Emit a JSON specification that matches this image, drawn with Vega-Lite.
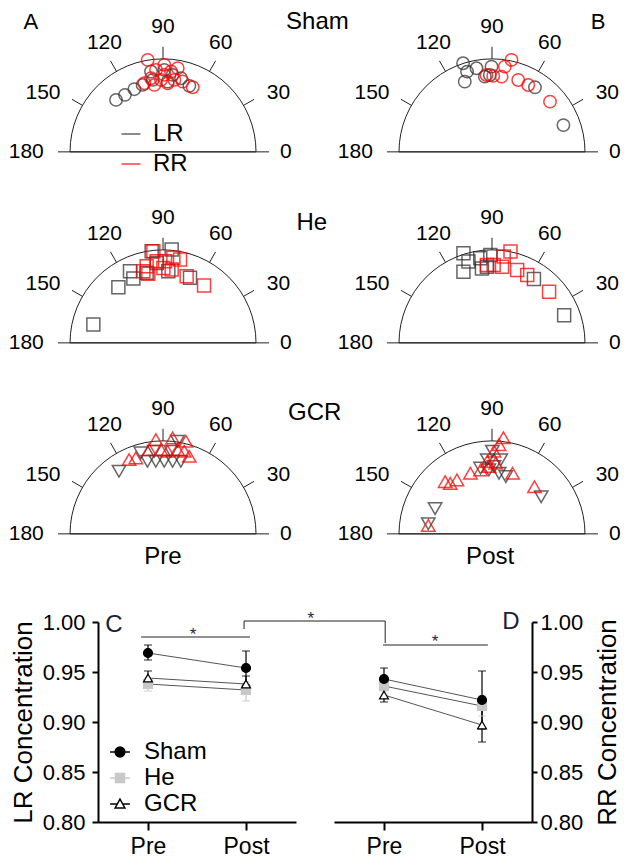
{
"$schema":"https://vega.github.io/schema/vega-lite/v6.json",
"padding":{"left":8,"top":0,"right":0,"bottom":0},
"spacing":38,
"resolve":{"scale":{"color":"independent","shape":"independent","fill":"independent","stroke":"independent"}},
"config":{"view":{"stroke":null},"font":"Liberation Sans",
 "text":{"font":"Liberation Sans"},
 "axis":{"domainColor":"#000","tickColor":"#000","labelColor":"#000","titleColor":"#000","domainWidth":2,"tickWidth":2,"grid":false,"labelFont":"Liberation Sans","titleFont":"Liberation Sans","labelFontSize":22,"titleFontSize":26,"titleFontWeight":"normal"},
 "legend":{"labelFont":"Liberation Sans","labelColor":"#000"}},
"datasets":{
 "ticks":[{"x":-1.13,"y":0,"x2":1.14,"y2":0},{"x":0.866,"y":0.5,"x2":0.979,"y2":0.565},{"x":0.5,"y":0.866,"x2":0.565,"y2":0.979},{"x":0,"y":1,"x2":0,"y2":1.13},{"x":-0.5,"y":0.866,"x2":-0.565,"y2":0.979},{"x":-0.866,"y":0.5,"x2":-0.979,"y2":0.565}],
 "angleLabels":[{"t":"0","x":1.32,"y":0},{"t":"30","x":1.24,"y":0.63},{"t":"60","x":0.62,"y":1.17},{"t":"90","x":0,"y":1.34},{"t":"120","x":-0.63,"y":1.17},{"t":"150","x":-1.29,"y":0.63},{"t":"180","x":-1.47,"y":0}],
 "shamPre":[{"side":"LR","x":-0.505,"y":0.559},{"side":"LR","x":-0.409,"y":0.613},{"side":"LR","x":-0.308,"y":0.674},{"side":"LR","x":-0.219,"y":0.72},{"side":"LR","x":-0.111,"y":0.774},{"side":"LR","x":-0.129,"y":0.864},{"side":"LR","x":0.014,"y":0.882},{"side":"LR","x":0.104,"y":0.828},{"side":"LR","x":0.05,"y":0.756},{"side":"LR","x":0.283,"y":0.71},{"side":"LR","x":0.194,"y":0.792},
  {"side":"RR","x":-0.165,"y":0.989},{"side":"RR","x":0.014,"y":0.935},{"side":"RR","x":0.158,"y":0.9},{"side":"RR","x":-0.075,"y":0.882},{"side":"RR","x":0.086,"y":0.864},{"side":"RR","x":-0.129,"y":0.792},{"side":"RR","x":-0.022,"y":0.774},{"side":"RR","x":0.122,"y":0.774},{"side":"RR","x":0.211,"y":0.756},{"side":"RR","x":0.319,"y":0.695},{"side":"RR","x":-0.201,"y":0.738},{"side":"RR","x":0.05,"y":0.738},{"side":"RR","x":-0.093,"y":0.72},{"side":"RR","x":0.014,"y":0.828}],
 "shamPost":[{"side":"LR","x":-0.311,"y":0.953},{"side":"LR","x":-0.268,"y":0.863},{"side":"LR","x":-0.293,"y":0.755},{"side":"LR","x":-0.167,"y":0.899},{"side":"LR","x":-0.077,"y":0.809},{"side":"LR","x":-0.005,"y":0.917},{"side":"LR","x":-0.023,"y":0.827},{"side":"LR","x":0.462,"y":0.694},{"side":"LR","x":0.768,"y":0.288},
  {"side":"RR","x":0.21,"y":0.989},{"side":"RR","x":0.138,"y":0.917},{"side":"RR","x":0.103,"y":0.809},{"side":"RR","x":0.013,"y":0.817},{"side":"RR","x":-0.059,"y":0.827},{"side":"RR","x":0.282,"y":0.773},{"side":"RR","x":0.39,"y":0.719},{"side":"RR","x":0.624,"y":0.54}],
 "hePre":[{"side":"LR","x":-0.749,"y":0.197},{"side":"LR","x":-0.48,"y":0.599},{"side":"LR","x":-0.319,"y":0.692},{"side":"LR","x":-0.355,"y":0.771},{"side":"LR","x":-0.122,"y":0.986},{"side":"LR","x":0.093,"y":1.004},{"side":"LR","x":0.057,"y":0.771},{"side":"LR","x":0.29,"y":0.699},{"side":"LR","x":-0.068,"y":0.86},{"side":"LR","x":-0.176,"y":0.753},
  {"side":"RR","x":-0.104,"y":0.986},{"side":"RR","x":0.111,"y":0.914},{"side":"RR","x":0.183,"y":0.896},{"side":"RR","x":-0.176,"y":0.824},{"side":"RR","x":-0.068,"y":0.878},{"side":"RR","x":0.022,"y":0.878},{"side":"RR","x":0.093,"y":0.789},{"side":"RR","x":-0.158,"y":0.742},{"side":"RR","x":0.004,"y":0.806},{"side":"RR","x":0.254,"y":0.717},{"side":"RR","x":0.441,"y":0.616},{"side":"RR","x":-0.211,"y":0.771}],
 "hePost":[{"side":"LR","x":-0.307,"y":0.964},{"side":"LR","x":-0.253,"y":0.874},{"side":"LR","x":-0.307,"y":0.765},{"side":"LR","x":-0.126,"y":0.91},{"side":"LR","x":-0.018,"y":0.946},{"side":"LR","x":-0.054,"y":0.819},{"side":"LR","x":0.451,"y":0.686},{"side":"LR","x":0.776,"y":0.296},{"side":"LR","x":-0.108,"y":0.801},
  {"side":"RR","x":0.199,"y":0.982},{"side":"RR","x":0.126,"y":0.928},{"side":"RR","x":0.108,"y":0.819},{"side":"RR","x":0.018,"y":0.838},{"side":"RR","x":-0.054,"y":0.838},{"side":"RR","x":0.271,"y":0.783},{"side":"RR","x":0.379,"y":0.729},{"side":"RR","x":0.614,"y":0.549}],
 "gcrPre":[{"side":"LR","x":-0.473,"y":0.673},{"side":"LR","x":-0.239,"y":0.871},{"side":"LR","x":-0.167,"y":0.781},{"side":"LR","x":-0.077,"y":0.781},{"side":"LR","x":0.013,"y":0.781},{"side":"LR","x":0.103,"y":0.781},{"side":"LR","x":0.192,"y":0.781},{"side":"LR","x":0.156,"y":0.996},{"side":"LR","x":0.085,"y":0.888},{"side":"LR","x":-0.095,"y":0.888},
  {"side":"RR","x":-0.365,"y":0.799},{"side":"RR","x":-0.293,"y":0.817},{"side":"RR","x":-0.149,"y":0.906},{"side":"RR","x":-0.077,"y":1.014},{"side":"RR","x":0.103,"y":1.032},{"side":"RR","x":0.246,"y":0.996},{"side":"RR","x":0.282,"y":0.835},{"side":"RR","x":0.049,"y":0.888},{"side":"RR","x":0.156,"y":0.906},{"side":"RR","x":-0.023,"y":0.906},{"side":"RR","x":0.228,"y":0.888}],
 "gcrPost":[{"side":"LR","x":-0.612,"y":0.272},{"side":"LR","x":-0.685,"y":0.109},{"side":"LR","x":0.004,"y":0.888},{"side":"LR","x":-0.051,"y":0.797},{"side":"LR","x":0.094,"y":0.797},{"side":"LR","x":-0.123,"y":0.707},{"side":"LR","x":-0.033,"y":0.688},{"side":"LR","x":0.076,"y":0.652},{"side":"LR","x":0.149,"y":0.616},{"side":"LR","x":0.529,"y":0.399},{"side":"LR","x":0.022,"y":0.725},
  {"side":"RR","x":-0.685,"y":0.091},{"side":"RR","x":-0.504,"y":0.562},{"side":"RR","x":-0.449,"y":0.543},{"side":"RR","x":-0.377,"y":0.58},{"side":"RR","x":-0.232,"y":0.652},{"side":"RR","x":-0.123,"y":0.688},{"side":"RR","x":-0.033,"y":0.725},{"side":"RR","x":0.04,"y":0.761},{"side":"RR","x":0.022,"y":0.888},{"side":"RR","x":0.076,"y":0.96},{"side":"RR","x":0.123,"y":1.033},{"side":"RR","x":0.221,"y":0.652},{"side":"RR","x":0.457,"y":0.507},{"side":"RR","x":-0.051,"y":0.779}],
 "lr":[{"g":"He","t":1,"m":0.938,"lo":0.931,"hi":0.944},{"g":"He","t":2,"m":0.932,"lo":0.921,"hi":0.94},{"g":"GCR","t":1,"m":0.944,"lo":0.938,"hi":0.951},{"g":"GCR","t":2,"m":0.938,"lo":0.93,"hi":0.946},{"g":"Sham","t":1,"m":0.969,"lo":0.962,"hi":0.977},{"g":"Sham","t":2,"m":0.954,"lo":0.937,"hi":0.971}],
 "rr":[{"g":"He","t":1,"m":0.936,"lo":0.931,"hi":0.941},{"g":"He","t":2,"m":0.916,"lo":0.906,"hi":0.926},{"g":"GCR","t":1,"m":0.927,"lo":0.92,"hi":0.934},{"g":"GCR","t":2,"m":0.897,"lo":0.88,"hi":0.914},{"g":"Sham","t":1,"m":0.943,"lo":0.932,"hi":0.954},{"g":"Sham","t":2,"m":0.922,"lo":0.893,"hi":0.951}],
 "brC":[{"t":0.93,"m":0.985,"t2":2.04,"m2":0.985},{"t":1.98,"m":0.993,"t2":1.98,"m2":1.001},{"t":1.98,"m":1.001,"t2":3.42,"m2":1.001},{"t":3.42,"m":1.001,"t2":3.42,"m2":0.979}],
 "brD":[{"t":0.99,"m":0.977,"t2":2.06,"m2":0.977}]
},
"vconcat":[
 {"vconcat":[
  {"hconcat":[
   {"width":224,"height":190,
    "encoding":{"x":{"field":"x","type":"quantitative","scale":{"domain":[-0.699,1.709],"nice":false,"zero":false},"axis":null},"y":{"field":"y","type":"quantitative","scale":{"domain":[-0.41,1.633],"nice":false,"zero":false},"axis":null}},
    "layer":[
     {"data":{"name":"ticks"},"mark":{"type":"rule","color":"#222","strokeWidth":1},"encoding":{"x2":{"field":"x2"},"y2":{"field":"y2"}}},
     {"data":{"values":[{"x":0,"y":0}]},"mark":{"type":"arc","radius":93,"theta":-1.5708,"theta2":1.5708,"filled":false,"color":"#222","strokeWidth":1}},
     {"data":{"name":"angleLabels"},"mark":{"type":"text","fontSize":21,"color":"#000"},"encoding":{"text":{"field":"t"}}},
     {"data":{"name":"shamPre"},"mark":{"type":"point","shape":"circle","filled":false,"size":154,"strokeWidth":1.5,"opacity":0.75},
      "encoding":{"color":{"field":"side","type":"nominal","scale":{"domain":["LR","RR"],"range":["#333333","#ff0000"]},
       "legend":{"orient":"none","legendX":21,"legendY":122,"title":null,"symbolType":"stroke","symbolSize":361,"symbolStrokeWidth":1.5,"labelFontSize":24,"labelOffset":10,"rowPadding":6,"padding":0}}}},
     {"data":{"values":[{"t":"A","x":-1.42,"y":1.4}]},"mark":{"type":"text","fontSize":22,"color":"#000"},"encoding":{"text":{"field":"t"}}},
     {"data":{"values":[{"t":"Sham","x":1.66,"y":1.4}]},"mark":{"type":"text","fontSize":24,"color":"#000"},"encoding":{"text":{"field":"t"}}}
    ]},
   {"width":223,"height":190,
    "encoding":{"x":{"field":"x","type":"quantitative","scale":{"domain":[-1.0,1.398],"nice":false,"zero":false},"axis":null},"y":{"field":"y","type":"quantitative","scale":{"domain":[-0.41,1.633],"nice":false,"zero":false},"axis":null}},
    "layer":[
     {"data":{"name":"ticks"},"mark":{"type":"rule","color":"#222","strokeWidth":1},"encoding":{"x2":{"field":"x2"},"y2":{"field":"y2"}}},
     {"data":{"values":[{"x":0,"y":0}]},"mark":{"type":"arc","radius":93,"theta":-1.5708,"theta2":1.5708,"filled":false,"color":"#222","strokeWidth":1}},
     {"data":{"name":"angleLabels"},"mark":{"type":"text","fontSize":21,"color":"#000"},"encoding":{"text":{"field":"t"}}},
     {"data":{"name":"shamPost"},"mark":{"type":"point","shape":"circle","filled":false,"size":154,"strokeWidth":1.5,"opacity":0.75},
      "encoding":{"color":{"field":"side","type":"nominal","scale":{"domain":["LR","RR"],"range":["#333333","#ff0000"]},"legend":null}}},
     {"data":{"values":[{"t":"B","x":1.14,"y":1.4}]},"mark":{"type":"text","fontSize":22,"color":"#000"},"encoding":{"text":{"field":"t"}}}
    ]}
  ],"spacing":77,"bounds":"flush","resolve":{"scale":{"color":"independent","shape":"independent","fill":"independent","stroke":"independent"}}},
  {"hconcat":[
   {"width":224,"height":190,
    "encoding":{"x":{"field":"x","type":"quantitative","scale":{"domain":[-0.699,1.709],"nice":false,"zero":false},"axis":null},"y":{"field":"y","type":"quantitative","scale":{"domain":[-0.41,1.633],"nice":false,"zero":false},"axis":null}},
    "layer":[
     {"data":{"name":"ticks"},"mark":{"type":"rule","color":"#222","strokeWidth":1},"encoding":{"x2":{"field":"x2"},"y2":{"field":"y2"}}},
     {"data":{"values":[{"x":0,"y":0}]},"mark":{"type":"arc","radius":93,"theta":-1.5708,"theta2":1.5708,"filled":false,"color":"#222","strokeWidth":1}},
     {"data":{"name":"angleLabels"},"mark":{"type":"text","fontSize":21,"color":"#000"},"encoding":{"text":{"field":"t"}}},
     {"data":{"name":"hePre"},"mark":{"type":"point","shape":"square","filled":false,"size":169,"strokeWidth":1.5,"opacity":0.75},
      "encoding":{"color":{"field":"side","type":"nominal","scale":{"domain":["LR","RR"],"range":["#333333","#ff0000"]},"legend":null}}},
     {"data":{"values":[{"t":"He","x":1.6,"y":1.29}]},"mark":{"type":"text","fontSize":24,"color":"#000"},"encoding":{"text":{"field":"t"}}}
    ]},
   {"width":223,"height":190,
    "encoding":{"x":{"field":"x","type":"quantitative","scale":{"domain":[-1.0,1.398],"nice":false,"zero":false},"axis":null},"y":{"field":"y","type":"quantitative","scale":{"domain":[-0.41,1.633],"nice":false,"zero":false},"axis":null}},
    "layer":[
     {"data":{"name":"ticks"},"mark":{"type":"rule","color":"#222","strokeWidth":1},"encoding":{"x2":{"field":"x2"},"y2":{"field":"y2"}}},
     {"data":{"values":[{"x":0,"y":0}]},"mark":{"type":"arc","radius":93,"theta":-1.5708,"theta2":1.5708,"filled":false,"color":"#222","strokeWidth":1}},
     {"data":{"name":"angleLabels"},"mark":{"type":"text","fontSize":21,"color":"#000"},"encoding":{"text":{"field":"t"}}},
     {"data":{"name":"hePost"},"mark":{"type":"point","shape":"square","filled":false,"size":169,"strokeWidth":1.5,"opacity":0.75},
      "encoding":{"color":{"field":"side","type":"nominal","scale":{"domain":["LR","RR"],"range":["#333333","#ff0000"]},"legend":null}}}
    ]}
  ],"spacing":77,"bounds":"flush","resolve":{"scale":{"color":"independent","shape":"independent","fill":"independent","stroke":"independent"}}},
  {"hconcat":[
   {"width":224,"height":190,
    "encoding":{"x":{"field":"x","type":"quantitative","scale":{"domain":[-0.699,1.709],"nice":false,"zero":false},"axis":null},"y":{"field":"y","type":"quantitative","scale":{"domain":[-0.41,1.633],"nice":false,"zero":false},"axis":null}},
    "layer":[
     {"data":{"name":"ticks"},"mark":{"type":"rule","color":"#222","strokeWidth":1},"encoding":{"x2":{"field":"x2"},"y2":{"field":"y2"}}},
     {"data":{"values":[{"x":0,"y":0}]},"mark":{"type":"arc","radius":93,"theta":-1.5708,"theta2":1.5708,"filled":false,"color":"#222","strokeWidth":1}},
     {"data":{"name":"angleLabels"},"mark":{"type":"text","fontSize":21,"color":"#000"},"encoding":{"text":{"field":"t"}}},
     {"data":{"name":"gcrPre"},"mark":{"type":"point","filled":false,"size":180,"strokeWidth":1.5,"opacity":0.75},
      "encoding":{"color":{"field":"side","type":"nominal","scale":{"domain":["LR","RR"],"range":["#333333","#ff0000"]},"legend":null},
       "shape":{"field":"side","type":"nominal","scale":{"domain":["LR","RR"],"range":["triangle-down","triangle-up"]},"legend":null}}},
     {"data":{"values":[{"t":"GCR","x":1.63,"y":1.3},{"t":"Pre","x":0,"y":-0.25}]},"mark":{"type":"text","fontSize":24,"color":"#000"},"encoding":{"text":{"field":"t"}}}
    ]},
   {"width":223,"height":190,
    "encoding":{"x":{"field":"x","type":"quantitative","scale":{"domain":[-1.0,1.398],"nice":false,"zero":false},"axis":null},"y":{"field":"y","type":"quantitative","scale":{"domain":[-0.41,1.633],"nice":false,"zero":false},"axis":null}},
    "layer":[
     {"data":{"name":"ticks"},"mark":{"type":"rule","color":"#222","strokeWidth":1},"encoding":{"x2":{"field":"x2"},"y2":{"field":"y2"}}},
     {"data":{"values":[{"x":0,"y":0}]},"mark":{"type":"arc","radius":93,"theta":-1.5708,"theta2":1.5708,"filled":false,"color":"#222","strokeWidth":1}},
     {"data":{"name":"angleLabels"},"mark":{"type":"text","fontSize":21,"color":"#000"},"encoding":{"text":{"field":"t"}}},
     {"data":{"name":"gcrPost"},"mark":{"type":"point","filled":false,"size":180,"strokeWidth":1.5,"opacity":0.75},
      "encoding":{"color":{"field":"side","type":"nominal","scale":{"domain":["LR","RR"],"range":["#333333","#ff0000"]},"legend":null},
       "shape":{"field":"side","type":"nominal","scale":{"domain":["LR","RR"],"range":["triangle-down","triangle-up"]},"legend":null}}},
     {"data":{"values":[{"t":"Post","x":-0.02,"y":-0.25}]},"mark":{"type":"text","fontSize":24,"color":"#000"},"encoding":{"text":{"field":"t"}}}
    ]}
  ],"spacing":77,"bounds":"flush","resolve":{"scale":{"color":"independent","shape":"independent","fill":"independent","stroke":"independent"}}}
 ],"spacing":1,"resolve":{"scale":{"color":"independent","shape":"independent","fill":"independent","stroke":"independent"}}},
 {"hconcat":[
  {"width":198,"height":200,
   "layer":[
    {"data":{"name":"lr"},"mark":{"type":"line","color":"#555","strokeWidth":1},
     "encoding":{"x":{"field":"t","type":"quantitative","scale":{"domain":[0.49,2.51],"nice":false,"zero":false},"axis":{"values":[1,2],"labelExpr":"datum.value == 1 ? 'Pre' : 'Post'","title":null,"tickSize":8,"labelPadding":5,"labelFontSize":23}},
      "y":{"field":"m","type":"quantitative","scale":{"domain":[0.8,1.0],"nice":false,"zero":false},"axis":{"values":[0.8,0.85,0.9,0.95,1.0],"format":".2f","title":"LR Concentration","tickSize":6,"labelPadding":7,"titlePadding":6}},
      "detail":{"field":"g"}}},
    {"data":{"name":"lr"},"mark":{"type":"rule","strokeWidth":1.2},
     "encoding":{"x":{"field":"t","type":"quantitative"},"y":{"field":"lo","type":"quantitative"},"y2":{"field":"hi"},
      "color":{"field":"g","type":"nominal","scale":{"domain":["Sham","He","GCR"],"range":["#000000","#c8c8c8","#000000"]},"legend":null}}},
    {"data":{"name":"lr"},"mark":{"type":"tick","orient":"horizontal","size":8,"thickness":1.2},
     "encoding":{"x":{"field":"t","type":"quantitative"},"y":{"field":"lo","type":"quantitative"},
      "color":{"field":"g","type":"nominal","scale":{"domain":["Sham","He","GCR"],"range":["#000000","#c8c8c8","#000000"]},"legend":null}}},
    {"data":{"name":"lr"},"mark":{"type":"tick","orient":"horizontal","size":8,"thickness":1.2},
     "encoding":{"x":{"field":"t","type":"quantitative"},"y":{"field":"hi","type":"quantitative"},
      "color":{"field":"g","type":"nominal","scale":{"domain":["Sham","He","GCR"],"range":["#000000","#c8c8c8","#000000"]},"legend":null}}},
    {"data":{"name":"lr"},"mark":{"type":"point","filled":true,"size":80,"strokeWidth":1.2,"opacity":1},
     "encoding":{"x":{"field":"t","type":"quantitative"},"y":{"field":"m","type":"quantitative"},
      "shape":{"field":"g","type":"nominal","scale":{"domain":["Sham","He","GCR"],"range":["circle","square","triangle-up"]},"legend":null},
      "fill":{"field":"g","type":"nominal","scale":{"domain":["Sham","He","GCR"],"range":["#000000","#c8c8c8","#ffffff"]},"legend":null},
      "stroke":{"field":"g","type":"nominal","scale":{"domain":["Sham","He","GCR"],"range":["#000000","#c8c8c8","#000000"]},"legend":null}}},
    {"data":{"name":"lr"},"transform":[{"filter":"false"}],"mark":{"type":"point","filled":true,"size":324,"strokeWidth":1.4,"opacity":1},
     "encoding":{"x":{"field":"t","type":"quantitative"},"y":{"field":"m","type":"quantitative"},
      "shape":{"field":"g","type":"nominal","scale":{"domain":["Sham","He","GCR"],"range":["M-1.1,0H-0.55M0.55,0H1.1M0.55,0A0.55,0.55,0,1,1,-0.55,0A0.55,0.55,0,1,1,0.55,0Z","M-1.1,0H-0.5M0.5,0H1.1M-0.5,-0.5H0.5V0.5H-0.5Z","M-1.1,0H-0.3M0.3,0H1.1M0,-0.55L0.55,0.45L-0.55,0.45Z"]},
       "legend":{"orient":"none","legendX":10,"legendY":118,"title":null,"labelFontSize":24,"labelOffset":12,"rowPadding":2,"padding":0,"symbolSize":324,"symbolStrokeWidth":1.4}},
      "fill":{"field":"g","type":"nominal","scale":{"domain":["Sham","He","GCR"],"range":["#000000","#c8c8c8","#ffffff"]},
       "legend":{"orient":"none","legendX":10,"legendY":118,"title":null,"labelFontSize":24,"labelOffset":12,"rowPadding":2,"padding":0,"symbolSize":324,"symbolStrokeWidth":1.4}},
      "stroke":{"field":"g","type":"nominal","scale":{"domain":["Sham","He","GCR"],"range":["#000000","#c8c8c8","#000000"]},
       "legend":{"orient":"none","legendX":10,"legendY":118,"title":null,"labelFontSize":24,"labelOffset":12,"rowPadding":2,"padding":0,"symbolSize":324,"symbolStrokeWidth":1.4}}}},
    {"data":{"name":"brC"},"mark":{"type":"rule","color":"#222","strokeWidth":1},
     "encoding":{"x":{"field":"t","type":"quantitative"},"y":{"field":"m","type":"quantitative"},"x2":{"field":"t2"},"y2":{"field":"m2"}}},
    {"data":{"values":[{"s":"*","t":1.46,"m":0.982},{"s":"*","t":2.66,"m":0.998}]},"mark":{"type":"text","fontSize":17,"baseline":"alphabetic","color":"#2a2440"},
     "encoding":{"x":{"field":"t","type":"quantitative"},"y":{"field":"m","type":"quantitative"},"text":{"field":"s"}}},
    {"data":{"values":[{"s":"C","t":0.653,"m":0.997}]},"mark":{"type":"text","fontSize":24,"color":"#1e1e3c"},
     "encoding":{"x":{"field":"t","type":"quantitative"},"y":{"field":"m","type":"quantitative"},"text":{"field":"s"}}}
   ],
   "resolve":{"scale":{"color":"independent","shape":"independent","fill":"independent","stroke":"independent"}}},
  {"width":198,"height":200,
   "layer":[
    {"data":{"name":"rr"},"mark":{"type":"line","color":"#555","strokeWidth":1},
     "encoding":{"x":{"field":"t","type":"quantitative","scale":{"domain":[0.49,2.51],"nice":false,"zero":false},"axis":{"values":[1,2],"labelExpr":"datum.value == 1 ? 'Pre' : 'Post'","title":null,"tickSize":8,"labelPadding":5,"labelFontSize":23}},
      "y":{"field":"m","type":"quantitative","scale":{"domain":[0.8,1.0],"nice":false,"zero":false},"axis":{"orient":"right","values":[0.8,0.85,0.9,0.95,1.0],"format":".2f","title":"RR Concentration","titleAngle":270,"titleBaseline":"top","tickSize":5,"labelPadding":3,"titlePadding":12}},
      "detail":{"field":"g"}}},
    {"data":{"name":"rr"},"mark":{"type":"rule","strokeWidth":1.2},
     "encoding":{"x":{"field":"t","type":"quantitative"},"y":{"field":"lo","type":"quantitative"},"y2":{"field":"hi"},
      "color":{"field":"g","type":"nominal","scale":{"domain":["Sham","He","GCR"],"range":["#000000","#c8c8c8","#000000"]},"legend":null}}},
    {"data":{"name":"rr"},"mark":{"type":"tick","orient":"horizontal","size":8,"thickness":1.2},
     "encoding":{"x":{"field":"t","type":"quantitative"},"y":{"field":"lo","type":"quantitative"},
      "color":{"field":"g","type":"nominal","scale":{"domain":["Sham","He","GCR"],"range":["#000000","#c8c8c8","#000000"]},"legend":null}}},
    {"data":{"name":"rr"},"mark":{"type":"tick","orient":"horizontal","size":8,"thickness":1.2},
     "encoding":{"x":{"field":"t","type":"quantitative"},"y":{"field":"hi","type":"quantitative"},
      "color":{"field":"g","type":"nominal","scale":{"domain":["Sham","He","GCR"],"range":["#000000","#c8c8c8","#000000"]},"legend":null}}},
    {"data":{"name":"rr"},"mark":{"type":"point","filled":true,"size":80,"strokeWidth":1.2,"opacity":1},
     "encoding":{"x":{"field":"t","type":"quantitative"},"y":{"field":"m","type":"quantitative"},
      "shape":{"field":"g","type":"nominal","scale":{"domain":["Sham","He","GCR"],"range":["circle","square","triangle-up"]},"legend":null},
      "fill":{"field":"g","type":"nominal","scale":{"domain":["Sham","He","GCR"],"range":["#000000","#c8c8c8","#ffffff"]},"legend":null},
      "stroke":{"field":"g","type":"nominal","scale":{"domain":["Sham","He","GCR"],"range":["#000000","#c8c8c8","#000000"]},"legend":null}}},
    {"data":{"name":"brD"},"mark":{"type":"rule","color":"#222","strokeWidth":1},
     "encoding":{"x":{"field":"t","type":"quantitative"},"y":{"field":"m","type":"quantitative"},"x2":{"field":"t2"},"y2":{"field":"m2"}}},
    {"data":{"values":[{"s":"*","t":1.52,"m":0.975}]},"mark":{"type":"text","fontSize":17,"baseline":"alphabetic","color":"#2a2440"},
     "encoding":{"x":{"field":"t","type":"quantitative"},"y":{"field":"m","type":"quantitative"},"text":{"field":"s"}}},
    {"data":{"values":[{"s":"D","t":2.296,"m":1.0}]},"mark":{"type":"text","fontSize":24,"color":"#1e1e3c"},
     "encoding":{"x":{"field":"t","type":"quantitative"},"y":{"field":"m","type":"quantitative"},"text":{"field":"s"}}}
   ],
   "resolve":{"scale":{"color":"independent","shape":"independent","fill":"independent","stroke":"independent"}}}
 ],"spacing":38,"bounds":"flush","resolve":{"scale":{"color":"independent","shape":"independent","fill":"independent","stroke":"independent"}}}
]
}
